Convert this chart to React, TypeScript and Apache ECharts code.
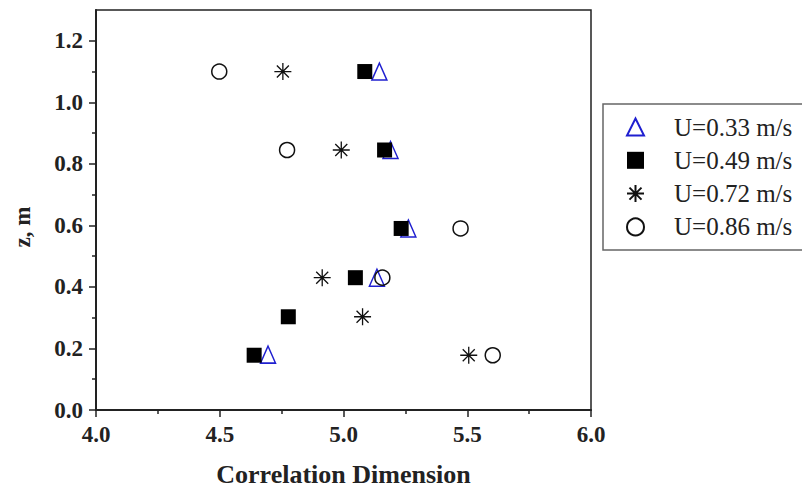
import React, { useEffect, useRef } from "react";
import * as echarts from "echarts";

const FONT = "Liberation Serif";

const seriesNames = ["U=0.33 m/s", "U=0.49 m/s", "U=0.72 m/s", "U=0.86 m/s"];

// [correlation dimension, z (m)]
const u033: number[][] = [
  [5.145, 1.1],
  [5.19, 0.845],
  [5.262, 0.59],
  [5.135, 0.43],
  [4.695, 0.18],
];
const u049: number[][] = [
  [5.086, 1.1],
  [5.166, 0.845],
  [5.233, 0.59],
  [5.048, 0.43],
  [4.777, 0.303],
  [4.639, 0.178],
];
const u072: number[][] = [
  [4.755, 1.1],
  [4.991, 0.845],
  [4.914, 0.43],
  [5.077, 0.303],
  [5.506, 0.178],
];
const u086: number[][] = [
  [4.498, 1.1],
  [4.772, 0.845],
  [5.473, 0.59],
  [5.157, 0.43],
  [5.603, 0.178],
];

const yMajorTicks = [0, 0.2, 0.4, 0.6, 0.8, 1.0, 1.2];
const yMinorTicks = [0.1, 0.3, 0.5, 0.7, 0.9, 1.1];

const xTitle = "Correlation Dimension";
const yTitle = "z, m";

const STAR = "path://M10,0L10,20M0,10L20,10M2.93,2.93L17.07,17.07M2.93,17.07L17.07,2.93";

export default function App() {
  const ref = useRef<HTMLDivElement>(null);
  useEffect(() => {
    if (!ref.current) return;
    const chart = echarts.init(ref.current, null, { renderer: "svg" });
    const axisColor = "#222";
    const labelStyle = {
      fontFamily: FONT,
      fontWeight: "bold" as const,
      fontSize: 23,
      color: axisColor,
    };
    chart.setOption({
      animation: false,
      backgroundColor: "#fff",
      grid: {
        left: 96,
        right: 211,
        top: 10,
        bottom: 78,
        show: true,
        borderColor: axisColor,
        borderWidth: 1.5,
        backgroundColor: "transparent",
      },
      xAxis: {
        type: "value",
        min: 4,
        max: 6,
        interval: 0.5,
        axisLine: { lineStyle: { color: axisColor, width: 2 } },
        axisTick: { inside: false, length: 7, lineStyle: { color: axisColor, width: 1.5 } },
        minorTick: { show: true, splitNumber: 2, length: 4, lineStyle: { color: axisColor, width: 1.5 } },
        splitLine: { show: false },
        minorSplitLine: { show: false },
        axisLabel: { ...labelStyle, margin: 13, formatter: (v: number) => v.toFixed(1) },
        name: xTitle,
        nameLocation: "middle",
        nameGap: 51,
        nameTextStyle: { fontFamily: FONT, fontWeight: "bold", fontSize: 26, color: axisColor },
      },
      yAxis: [
        {
          type: "value",
          min: 0,
          max: 1.3,
          interval: 0.1,
          axisLine: { lineStyle: { color: axisColor, width: 2 } },
          axisTick: {
            inside: false,
            length: 7,
            customValues: yMajorTicks,
            lineStyle: { color: axisColor, width: 1.5 },
          },
          splitLine: { show: false },
          axisLabel: {
            ...labelStyle,
            margin: 13,
            customValues: yMajorTicks,
            formatter: (v: number) => v.toFixed(1),
          },
        },
        {
          type: "value",
          min: 0,
          max: 1.3,
          interval: 0.1,
          position: "left",
          axisLine: { show: false },
          axisLabel: { show: false },
          splitLine: { show: false },
          axisTick: {
            inside: false,
            length: 4,
            customValues: yMinorTicks,
            lineStyle: { color: axisColor, width: 1.5 },
          },
        },
      ],
      legend: {
        orient: "vertical",
        left: 603,
        top: 104,
        padding: [10.5, 40, 10.5, 23],
        itemWidth: 17,
        itemHeight: 17,
        itemGap: 8.3,
        borderColor: "#666",
        borderWidth: 1.5,
        selectedMode: false,
        data: seriesNames,
        textStyle: {
          fontFamily: FONT,
          fontSize: 25,
          color: axisColor,
          lineHeight: 24,
          padding: [0, 0, 0, 25],
        },
      },
      graphic: [
        {
          type: "text",
          x: 22,
          y: 227,
          rotation: Math.PI / 2,
          style: {
            text: yTitle,
            fontFamily: FONT,
            fontWeight: "bold",
            fontSize: 23,
            fill: axisColor,
            align: "center",
            verticalAlign: "middle",
          },
        },
      ],
      series: [
        {
          name: seriesNames[0],
          type: "scatter",
          symbol: "triangle",
          symbolSize: [15, 17],
          itemStyle: { color: "rgba(0,0,0,0)", borderColor: "#1f1fd0", borderWidth: 1.5, opacity: 1 },
          data: u033,
        },
        {
          name: seriesNames[1],
          type: "scatter",
          symbol: "rect",
          symbolSize: 15,
          itemStyle: { color: "#000", opacity: 1 },
          data: u049,
        },
        {
          name: seriesNames[2],
          type: "scatter",
          symbol: STAR,
          symbolSize: 17,
          itemStyle: { color: "rgba(0,0,0,0)", borderColor: "#111", borderWidth: 1.3, opacity: 1 },
          data: u072,
        },
        {
          name: seriesNames[3],
          type: "scatter",
          symbol: "circle",
          symbolSize: 15,
          itemStyle: { color: "rgba(0,0,0,0)", borderColor: "#111", borderWidth: 1.5, opacity: 1 },
          data: u086,
        },
      ],
    });
    return () => chart.dispose();
  }, []);
  return (
    <div
      ref={ref}
      style={{ position: "absolute", left: 0, top: 0, width: 802, height: 492 }}
    />
  );
}
